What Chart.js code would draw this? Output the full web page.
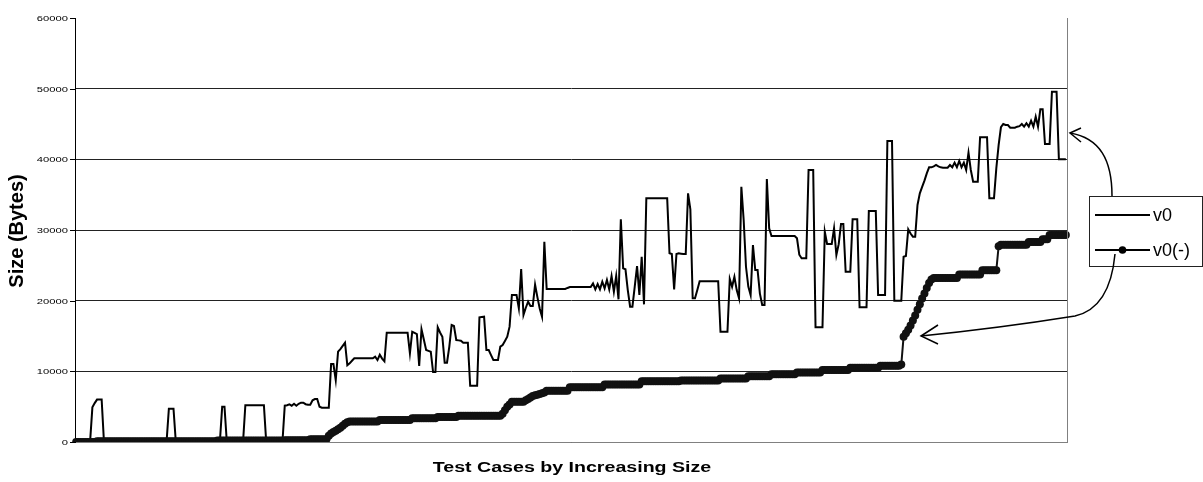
<!DOCTYPE html>
<html>
<head>
<meta charset="utf-8">
<title>Size by test case</title>
<script src="https://cdn.jsdelivr.net/npm/chart.js@4.4.1/dist/chart.umd.min.js"></script>
<style>
  html, body { margin: 0; padding: 0; background: #fff; }
  #wrap { width: 1203px; height: 482px; position: relative; }
</style>
</head>
<body>
<div id="wrap"><canvas id="sizeChart" width="1203" height="482"></canvas></div>
<script>
// v0: size of each test case (bytes)
var v0 = [
  0,0,0,0,0,0,0,4900,5500,6000,
  6000,6000,0,0,0,0,0,0,0,0,
  0,0,0,0,0,0,0,0,0,0,
  0,0,0,0,0,0,0,0,0,0,
  4700,4700,4700,0,0,0,0,0,0,0,
  0,0,0,0,0,0,0,0,0,0,
  0,0,0,5000,5000,0,0,0,0,0,
  0,0,0,5200,5200,5200,5200,5200,5200,5200,
  5200,5200,0,0,0,0,0,0,0,0,
  5140,5200,5330,5140,5420,5140,5400,5560,5560,5350,
  5280,5280,5900,6080,6080,5000,4860,4860,4860,4860,
  11040,11040,8770,12780,13150,13600,14050,10850,11130,11500,
  11840,11840,11840,11840,11840,11840,11840,11840,11840,12070,
  11600,12350,11800,11420,15470,15470,15470,15470,15470,15470,
  15470,15470,15470,15470,12550,15610,15450,15280,10750,15950,
  14500,13020,12900,12780,9900,9900,16230,15500,14900,11220,
  11220,13500,16560,16410,14430,14380,14330,14050,14050,14050,
  7970,7970,7970,7970,17640,17700,17730,13020,13020,12300,
  11600,11600,11600,13490,13730,14300,14900,16320,20800,20800,
  20800,18920,24480,17970,19000,19850,19240,19240,22260,20500,
  18900,17730,28340,21650,21650,21650,21650,21650,21650,21650,
  21650,21650,21800,21930,21930,21930,21930,21930,21930,21930,
  21930,21930,21930,22450,21600,22360,21600,22680,21740,22920,
  21600,23490,21270,23490,20190,31510,24580,24440,21500,19150,
  19150,22000,24900,20800,26220,19480,34480,34480,34480,34480,
  34480,34480,34480,34480,34480,34480,26700,26600,21600,26600,
  26700,26650,26600,26600,35190,32930,20330,20330,21500,22740,
  22740,22740,22740,22740,22740,22740,22740,22740,15610,15610,
  15610,15610,23060,21970,23390,21500,20330,36120,31410,24800,
  22000,20800,27870,24340,24340,21000,19390,19390,37210,30240,
  29150,29150,29150,29150,29150,29150,29150,29150,29150,29150,
  29150,28820,26500,25990,25990,25990,38490,38490,38490,16230,
  16230,16230,16230,29760,28020,28020,28020,30240,26460,28000,
  30850,30850,24100,24100,24100,31510,31510,31510,19060,19060,
  19060,19060,32690,32690,32690,32690,20800,20800,20800,20800,
  42590,42590,42590,19990,19990,19990,19990,26220,26320,30100,
  29500,29050,29050,33540,35190,36100,36980,38020,38870,38870,
  39000,39200,39000,38870,38820,38820,38820,39200,38870,39530,
  38870,39770,38870,39530,38490,40940,38490,36840,36840,36840,
  43120,43120,43120,43120,34480,34480,34480,38730,42000,44540,
  45000,44860,44860,44480,44480,44480,44620,44700,45000,44620,
  45100,44620,45470,44620,46040,44620,47080,47080,42170,42170,
  42170,49570,49570,49570,40000,40000,40000,40000
];

// v0(-): the reduced size of each test case (bytes)
var v0Minus = [
  0,0,0,0,0,0,0,0,0,100,
  100,100,100,100,100,100,100,100,100,100,
  100,100,100,100,100,100,100,100,100,100,
  100,100,100,100,100,100,100,100,100,100,
  100,100,100,100,100,100,100,100,100,100,
  100,100,100,100,100,100,100,100,100,100,
  100,200,200,200,200,200,200,200,200,200,
  200,200,200,200,200,200,200,200,200,200,
  200,200,200,200,200,200,200,200,200,200,
  250,250,250,250,250,250,250,250,250,250,
  250,400,400,400,400,400,400,400,400,900,
  1200,1400,1600,1800,2000,2300,2600,2800,2900,2900,
  2900,2900,2900,2900,2900,2900,2900,2900,2900,2900,
  2900,3100,3100,3100,3100,3100,3100,3100,3100,3100,
  3100,3100,3100,3100,3100,3350,3350,3350,3350,3350,
  3350,3350,3350,3350,3350,3350,3550,3550,3550,3550,
  3550,3550,3550,3550,3550,3700,3700,3700,3700,3700,
  3700,3700,3700,3700,3700,3700,3700,3700,3700,3700,
  3700,3700,3700,3700,4000,4500,5000,5300,5700,5700,
  5700,5700,5700,5700,5900,6100,6300,6500,6600,6700,
  6800,6900,7000,7250,7250,7250,7250,7250,7250,7250,
  7250,7250,7250,7750,7750,7750,7750,7750,7750,7750,
  7750,7750,7750,7750,7750,7750,7750,7750,8150,8150,
  8150,8150,8150,8150,8150,8150,8150,8150,8150,8150,
  8150,8150,8150,8150,8600,8600,8600,8600,8600,8600,
  8600,8600,8600,8600,8600,8600,8600,8600,8600,8600,
  8600,8700,8700,8700,8700,8700,8700,8700,8700,8700,
  8700,8700,8700,8700,8700,8700,8700,8700,9000,9000,
  9000,9000,9000,9000,9000,9000,9000,9000,9000,9000,
  9300,9300,9300,9300,9300,9300,9300,9300,9300,9300,
  9600,9600,9600,9600,9600,9600,9600,9600,9600,9600,
  9600,9850,9850,9850,9850,9850,9850,9850,9850,9850,
  9850,9850,10200,10200,10200,10200,10200,10200,10200,10200,
  10200,10200,10200,10200,10500,10500,10500,10500,10500,10500,
  10500,10500,10500,10500,10500,10500,10500,10800,10800,10800,
  10800,10800,10800,10800,10800,10800,10950,14900,15400,15900,
  16500,17200,17900,18700,19500,20300,21000,21800,22500,23000,
  23200,23200,23200,23200,23200,23200,23200,23200,23200,23200,
  23200,23700,23700,23700,23700,23700,23700,23700,23700,23700,
  23700,24300,24300,24300,24300,24300,24300,24300,27700,27900,
  27900,27900,27900,27900,27900,27900,27900,27900,27900,27900,
  27900,28300,28300,28300,28300,28300,28300,28700,28700,28700,
  29300,29300,29300,29300,29300,29300,29300,29300
];

// test cases are just numbered in order of increasing size
var testCases = v0.map(function (_, i) { return i + 1; });
var yTicks = [0, 10000, 20000, 30000, 40000, 50000, 60000];
var seriesNames = ["v0", "v0(-)"];

var FONT = '"Liberation Sans", Arial, sans-serif';

function stretchText(ctx, text, x, y, sx) {
  ctx.save();
  ctx.translate(x, y);
  ctx.scale(sx, 1);
  ctx.fillText(text, 0, 0);
  ctx.restore();
}

function arrowHead(ctx, tip, a1, a2) {
  ctx.beginPath();
  ctx.moveTo(a1[0], a1[1]);
  ctx.lineTo(tip[0], tip[1]);
  ctx.lineTo(a2[0], a2[1]);
  ctx.stroke();
}

var overlay = {
  id: "overlay",
  afterDraw: function (chart) {
    var ctx = chart.ctx;
    var area = chart.chartArea;
    var ys = chart.scales.y;
    ctx.save();

    // right edge of the plot area
    ctx.strokeStyle = "#808080";
    ctx.lineWidth = 1;
    ctx.beginPath();
    ctx.moveTo(area.right + 0.5, area.top);
    ctx.lineTo(area.right + 0.5, area.bottom);
    ctx.stroke();

    // y tick marks and labels
    ctx.strokeStyle = "#000";
    ctx.fillStyle = "#000";
    ctx.font = "8px " + FONT;
    ctx.textAlign = "right";
    ctx.textBaseline = "middle";
    yTicks.forEach(function (v) {
      var y = Math.round(ys.getPixelForValue(v)) + 0.5;
      ctx.beginPath();
      ctx.moveTo(area.left - 5, y);
      ctx.lineTo(area.left, y);
      ctx.stroke();
      stretchText(ctx, String(v), area.left - 7, y, 1.4);
    });

    // axis titles
    ctx.font = "bold 14px " + FONT;
    ctx.textAlign = "center";
    stretchText(ctx, "Test Cases by Increasing Size", 572, 468, 1.4);

    ctx.save();
    ctx.translate(17, 231);
    ctx.rotate(-Math.PI / 2);
    ctx.font = "bold 20px " + FONT;
    ctx.fillText("Size (Bytes)", 0, 0);
    ctx.restore();

    // legend
    ctx.lineWidth = 1;
    ctx.strokeStyle = "#222";
    ctx.strokeRect(1089.5, 196.5, 113, 70);
    ctx.lineWidth = 2;
    ctx.strokeStyle = "#000";
    ctx.beginPath();
    ctx.moveTo(1095, 215);
    ctx.lineTo(1150, 215);
    ctx.moveTo(1095, 250);
    ctx.lineTo(1150, 250);
    ctx.stroke();
    ctx.beginPath();
    ctx.arc(1122.5, 250, 3.8, 0, Math.PI * 2);
    ctx.fill();
    ctx.font = "18px " + FONT;
    ctx.textAlign = "left";
    ctx.fillText(seriesNames[0], 1153, 216);
    ctx.fillText(seriesNames[1], 1153, 251);

    // call-out arrows from the legend to the lines
    ctx.lineWidth = 1.5;
    ctx.beginPath();
    ctx.moveTo(1112, 196);
    ctx.bezierCurveTo(1112, 160, 1100, 138, 1070, 133);
    ctx.stroke();
    arrowHead(ctx, [1070, 133], [1081, 128], [1081, 142]);

    ctx.beginPath();
    ctx.moveTo(1115, 254);
    ctx.quadraticCurveTo(1110, 308, 1075, 316);
    ctx.quadraticCurveTo(1000, 328, 921, 336);
    ctx.stroke();
    arrowHead(ctx, [921, 336], [938, 325], [938, 344]);

    ctx.restore();
  }
};

new Chart(document.getElementById("sizeChart"), {
  type: "line",
  data: {
    labels: testCases,
    datasets: [
      {
        label: seriesNames[0],
        data: v0,
        borderColor: "#000",
        borderWidth: 2,
        pointRadius: 0,
        tension: 0,
        fill: false,
        order: 2
      },
      {
        label: seriesNames[1],
        data: v0Minus,
        borderColor: "#111",
        borderWidth: 2,
        pointRadius: 4,
        pointBackgroundColor: "#111",
        pointBorderWidth: 0,
        tension: 0,
        fill: false,
        order: 1
      }
    ]
  },
  options: {
    responsive: false,
    animation: false,
    devicePixelRatio: 1,
    layout: { padding: { top: 18, right: 136, left: 0, bottom: 0 } },
    scales: {
      x: {
        type: "category",
        offset: true,
        grid: { display: false, drawTicks: false },
        border: { display: true, color: "#808080", width: 1 },
        ticks: { display: false },
        afterFit: function (scale) { scale.height = 40; }
      },
      y: {
        min: 0,
        max: 60000,
        ticks: { display: false, stepSize: 10000 },
        grid: {
          drawTicks: false,
          color: function (c) { return c.tick && c.tick.value === 60000 ? "rgba(0,0,0,0)" : "#222"; },
          lineWidth: 1
        },
        border: { display: true, color: "#000", width: 1 },
        afterFit: function (scale) { scale.width = 75; }
      }
    },
    plugins: {
      legend: { display: false },
      tooltip: { enabled: false }
    }
  },
  plugins: [overlay]
});
</script>
</body>
</html>
